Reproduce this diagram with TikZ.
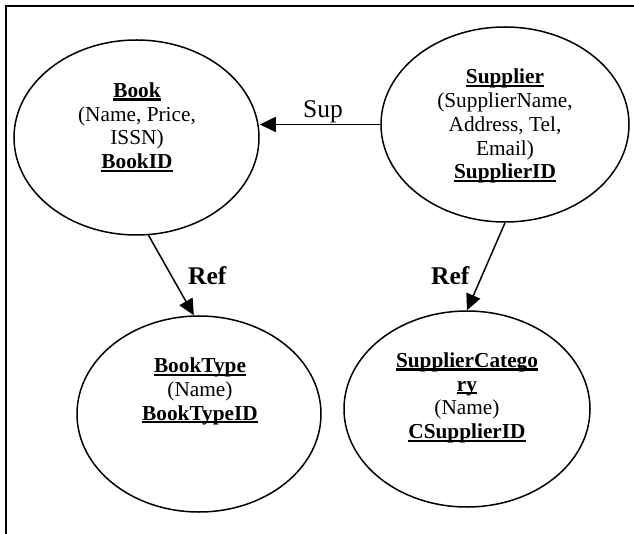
\documentclass[tikz,border=0pt]{standalone}
\usepackage{fontspec}
\setmainfont{Liberation Serif}
\usetikzlibrary{shapes.geometric,arrows.meta}
% bold key attributes are underlined with a firm rule
\newcommand\ulbox[1]{\setbox0=\hbox{#1}\rlap{\copy0}\rule[-3.3pt]{\wd0}{2.2pt}}
\begin{document}
\begin{tikzpicture}[x=1pt,y=-1pt,
  entity/.style={ellipse, draw, line width=1.5pt, inner sep=0pt},
  etext/.style={align=center, inner sep=0pt, font=\fontsize{21.3}{23.8}\selectfont},
  rel/.style={line width=1.5pt, -{Triangle[length=16pt,width=15pt]}},
  rlabel/.style={inner sep=0pt, anchor=base west, font=\fontsize{25.5}{28}\selectfont}]
\useasboundingbox (0,0) rectangle (634,534);
% frame
\draw[line width=1.8pt] (6,534) -- (6,6) -- (634,6);

% entities
\node[entity, minimum width=245pt, minimum height=195pt] (book) at (136.5,137.5) {};
\node[entity, minimum width=248pt, minimum height=195pt] (supplier) at (505,124.5) {};
\node[entity, minimum width=244pt, minimum height=196pt] (booktype) at (199,414) {};
\node[entity, minimum width=246pt, minimum height=196pt] (supcat) at (467,409) {};

% entity contents
\node[etext] (booktxt) at (137,127.2)
  {\ulbox{\textbf{Book}}\\(Name, Price,\\ISSN)\\\ulbox{\textbf{BookID}}};
\node[etext] (suppliertxt) at (505,126.1)
  {\ulbox{\textbf{Supplier}}\\(SupplierName,\\Address, Tel,\\Email)\\\ulbox{\textbf{SupplierID}}};
\node[etext] (booktypetxt) at (200,391.2)
  {\ulbox{\textbf{BookType}}\\(Name)\\\ulbox{\textbf{BookTypeID}}};
\node[etext] (supcattxt) at (467,397.8)
  {\ulbox{\textbf{SupplierCatego}}\\\ulbox{\textbf{ry}}\\(Name)\\\ulbox{\textbf{CSupplierID}}};

% relationships
\draw[rel] (supplier.west) -- (supplier.west -| book.east);
\node[rlabel] (suplbl) at (303,118) {Sup};
\draw[rel] (book.-83) -- (booktype.93);
\node[rlabel] (reflbl1) at (188,284.7) {\textbf{Ref}};
\draw[rel] (supplier.south) -- (supcat.north);
\node[rlabel] (reflbl2) at (431,284.7) {\textbf{Ref}};
\end{tikzpicture}
\end{document}
